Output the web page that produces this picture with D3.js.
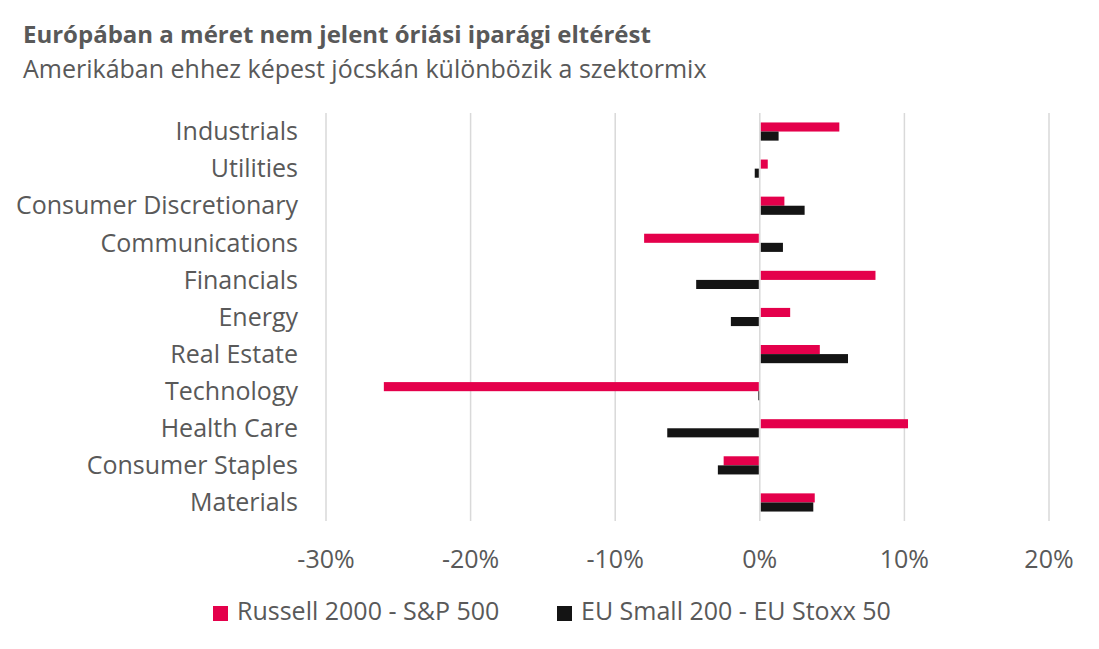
<!DOCTYPE html>
<html>
<head>
<meta charset="utf-8">
<script src="https://cdn.jsdelivr.net/npm/d3@7.9.0/dist/d3.min.js"></script>
<style>
  body { margin: 0; background: #fff; }
  svg { display: block; font-family: "Open Sans", "Noto Sans", sans-serif; }
</style>
</head>
<body>
<svg id="chart" width="1099" height="649"></svg>
<script>
// sectors, top to bottom
const categories = [
    'Industrials', 'Utilities', 'Consumer Discretionary', 'Communications',
    'Financials', 'Energy', 'Real Estate', 'Technology', 'Health Care',
    'Consumer Staples', 'Materials'
];
// difference in sector weight, %
const usDiff = [5.5, 0.55, 1.7, -8.0, 8.0, 2.1, 4.15, -26.0, 10.25, -2.5, 3.8];
const euDiff = [1.3, -0.35, 3.1, 1.6, -4.4, -2.0, 6.1, -0.1, -6.4, -2.9, 3.7];
const seriesNames = ['Russell 2000 - S&P 500', 'EU Small 200 - EU Stoxx 50'];
const xTicks = [-30, -20, -10, 0, 10, 20];

const colors = ['#e4004b', '#141414'];
const textColor = '#595959';

const svg = d3.select('#chart');

let x = d3.scaleLinear().domain([-30, 20]).range([326, 1049]);
let y = d3.scaleBand().domain(categories).range([113, 521]).paddingInner(0.51).paddingOuter(0.255);
let ySub = d3.scaleBand().domain([0, 1]).range([0, y.bandwidth()]);

// gridlines
svg.append('g')
    .selectAll('line')
    .data(xTicks)
    .join('line')
    .attr('x1', (d) => x(d)).attr('x2', (d) => x(d))
    .attr('y1', 113).attr('y2', 521)
    .attr('stroke', '#d9d9d9')
    .attr('stroke-width', 1.5);

// bars
const series = [usDiff, euDiff];
series.forEach((values, si) => {
    svg.append('g')
        .selectAll('rect')
        .data(values)
        .join('rect')
        .attr('x', (d) => d >= 0 ? x(0) + 1 : x(d))
        .attr('width', (d) => Math.max(0.8, Math.abs(x(d) - x(0)) - 1))
        .attr('y', (d, i) => y(categories[i]) + ySub(si))
        .attr('height', ySub.bandwidth())
        .attr('fill', colors[si]);
});

// category labels
svg.append('g')
    .selectAll('text')
    .data(categories)
    .join('text')
    .attr('x', 298)
    .attr('y', (d) => y(d) + y.bandwidth() / 2)
    .attr('dy', '0.35em')
    .attr('text-anchor', 'end')
    .attr('fill', textColor)
    .attr('font-size', 25)
    .text((d) => d);

// x tick labels
svg.append('g')
    .selectAll('text')
    .data(xTicks)
    .join('text')
    .attr('x', (d) => x(d))
    .attr('y', 568)
    .attr('text-anchor', 'middle')
    .attr('fill', textColor)
    .attr('font-size', 25)
    .text((d) => d + '%');

// title
svg.append('text')
    .attr('x', 23).attr('y', 43)
    .attr('fill', textColor)
    .attr('font-size', 24)
    .attr('font-weight', 'bold')
    .text('Európában a méret nem jelent óriási iparági eltérést');
svg.append('text')
    .attr('x', 23).attr('y', 78)
    .attr('fill', textColor)
    .attr('font-size', 25)
    .text('Amerikában ehhez képest jócskán különbözik a szektormix');

// legend
const legendX = [213, 557];
seriesNames.forEach((name, i) => {
    let g = svg.append('g').attr('transform', `translate(${legendX[i]},606)`);
    g.append('rect').attr('width', 15).attr('height', 15).attr('fill', colors[i]);
    g.append('text')
        .attr('x', 24).attr('y', 14)
        .attr('fill', textColor)
        .attr('font-size', 25)
        .text(name);
});
</script>
</body>
</html>
